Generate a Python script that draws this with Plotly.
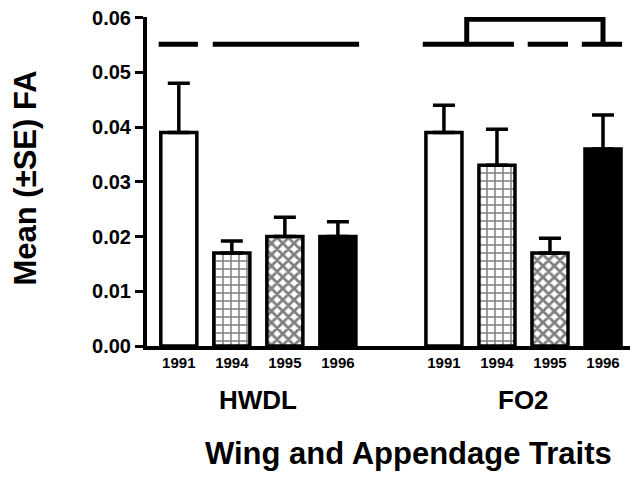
import plotly.graph_objects as go

groups = ["HWDL", "FO2"]
years = ["1991", "1994", "1995", "1996"]
hwdl_mean = [0.039, 0.017, 0.020, 0.020]
hwdl_se = [0.009, 0.0022, 0.0035, 0.0027]
fo2_mean = [0.039, 0.033, 0.017, 0.036]
fo2_se = [0.005, 0.0066, 0.0027, 0.0062]
y_ticks = [0.00, 0.01, 0.02, 0.03, 0.04, 0.05, 0.06]

fills = ["white", "white", "white", "black"]
shapes_pat = ["", "+", "x", ""]
pat_size = [8, 8, 8, 8]
pat_sol = [0.3, 0.34, 0.58, 0.3]

FONT = "Arial, Liberation Sans, sans-serif"

fig = go.Figure()
for g, (means, ses) in enumerate([(hwdl_mean, hwdl_se), (fo2_mean, fo2_se)]):
    base = g * 5
    for i, yr in enumerate(years):
        fig.add_trace(go.Bar(
            x=[base + i], y=[means[i]], width=0.68,
            marker=dict(color=fills[i], line=dict(color="black", width=3.5),
                        pattern=dict(shape=shapes_pat[i], fgcolor="black", bgcolor="white",
                                     size=pat_size[i], solidity=pat_sol[i], fillmode="overlay")),
            error_y=dict(type="data", array=[ses[i]], arrayminus=[0], symmetric=False,
                         color="black", thickness=3.5, width=11),
            showlegend=False,
        ))

tickvals = [0, 1, 2, 3, 5, 6, 7, 8]
ticktext = years + years

# significance lines
lw = 5
yl = 0.0551
segs = [(-0.38, 0.36), (0.64, 3.40), (4.60, 6.32), (6.58, 7.34), (7.60, 8.36)]
shapes = []
for a, b in segs:
    shapes.append(dict(type="line", xref="x", yref="y", x0=a, x1=b, y0=yl, y1=yl,
                       line=dict(color="black", width=lw)))
ytop = 0.0597
shapes.append(dict(type="path", xref="x", yref="y",
                   path=f"M 5.43 {yl} L 5.43 {ytop} L 8.0 {ytop} L 8.0 {yl}",
                   line=dict(color="black", width=lw)))

annotations = []
for g, xc in zip(groups, [1.5, 6.5]):
    annotations.append(dict(x=xc, y=0, xref="x", yref="paper", yanchor="middle", yshift=-54,
                            text=f"<b>{g}</b>", showarrow=False,
                            font=dict(family=FONT, size=26, color="black")))
annotations.append(dict(x=0.5, y=0, xref="paper", yref="paper", yanchor="middle", yshift=-107,
                        xshift=16,
                        text="<b>Wing and Appendage Traits</b>", showarrow=False,
                        font=dict(family=FONT, size=31, color="black")))
annotations.append(dict(x=0, y=0.5, xref="paper", yref="paper", xanchor="center", yanchor="middle",
                        xshift=-122, yshift=3, textangle=-90,
                        text="<b>Mean (±SE) FA</b>", showarrow=False,
                        font=dict(family=FONT, size=31, color="black")))

fig.update_layout(
    width=630, height=470,
    margin=dict(l=139, r=0, t=9, b=132),
    paper_bgcolor="white", plot_bgcolor="white",
    barmode="overlay",
    shapes=shapes, annotations=annotations,
    xaxis=dict(range=[-0.60, 8.66], tickvals=tickvals, ticktext=ticktext,
               showgrid=False, zeroline=False, showline=True, linecolor="black", linewidth=4,
               ticks="", tickfont=dict(family=FONT, size=15, color="black", weight="bold")),
    yaxis=dict(range=[0, 0.0601], tickvals=y_ticks, tickformat=".2f",
               showgrid=False, zeroline=False, showline=True, linecolor="black", linewidth=4,
               ticks="outside", ticklen=8, tickwidth=3, tickcolor="black",
               ticklabeloverflow="allow",
               tickfont=dict(family=FONT, size=20, color="black", weight="bold")),
)

fig.write_html("out.html")
